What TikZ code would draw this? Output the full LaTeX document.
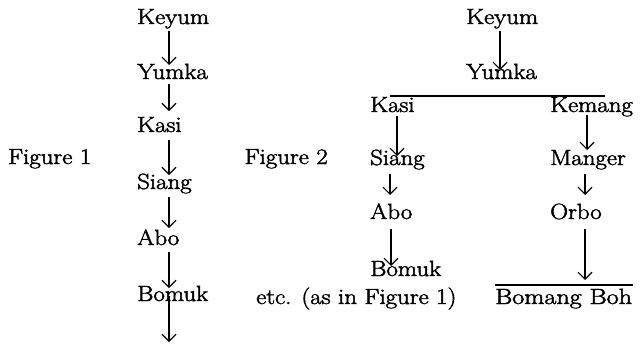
\documentclass[tikz,border=0pt]{standalone}
\usepackage{fontspec}
\setmainfont{Latin Modern Roman}[FakeBold=2]
\usetikzlibrary{arrows.meta,calc}
\tikzset{
  txt/.style={inner sep=0pt, anchor=base west, xscale=1.13, transform shape, font=\fontsize{22}{26}\selectfont},
  arr/.style={line width=1.1pt, -{Straight Barb[length=7pt,width=14pt,line width=1.1pt]}},
  rule/.style={line width=1.1pt}
}
\begin{document}
\begin{tikzpicture}[x=1pt,y=-1pt]
\useasboundingbox (0,0) rectangle (642,343);
% Figure 1
\node[txt] (f1) at (8,164) {Figure 1};
\node[txt] (k1) at (137,24) {Keyum};
\node[txt] (y1) at (137,79) {Yumka};
\node[txt] (ka1) at (137,132) {Kasi};
\node[txt] (s1) at (137,189) {Siang};
\node[txt] (a1) at (137,245) {Abo};
\node[txt] (b1) at (137,301) {Bomuk};
\coordinate (end1) at (169,342);
\draw[arr] ($(k1.base west)+(32,7)$) -- ($(y1.base west)+(32,-14)$);
\draw[arr] ($(y1.base west)+(32,5)$) -- ($(ka1.base west)+(32,-21)$);
\draw[arr] ($(ka1.base west)+(32,8)$) -- ($(s1.base west)+(32,-14)$);
\draw[arr] ($(s1.base west)+(32,8)$) -- ($(a1.base west)+(32,-17)$);
\draw[arr] ($(a1.base west)+(32,7)$) -- ($(b1.base west)+(32,-13)$);
\draw[arr] ($(b1.base west)+(32,-5)$) -- (end1);
% Figure 2
\node[txt, anchor=base east] (f2) at (328,164) {Figure 2};
\node[txt] (k2) at (466,24) {Keyum};
\node[txt] (y2) at (466,79) {Yumka};
\coordinate (barL) at (390,96);
\coordinate (barR) at (605,96);
\draw[rule] (barL) -- (barR);
\node[txt] (ka2) at (370,112) {Kasi};
\node[txt] (ke2) at (550,112) {Kemang};
\node[txt] (s2) at (370,165) {Siang};
\node[txt] (m2) at (550,165) {Manger};
\node[txt] (a2) at (370,219) {Abo};
\node[txt] (o2) at (550,219) {Orbo};
\node[txt] (b2) at (370,276) {Bomuk};
\node[txt] (etc) at (256,304) {etc. (as in Figure 1)};
\node[txt, xscale=1.05] (bb) at (495,304) {Bomang Boh};
\coordinate (bbL) at (495,285);
\coordinate (bbR) at (633,285);
\draw[rule] (bbL) -- (bbR);
\draw[arr] ($(k2.base west)+(34,7)$) -- ($(y2.base west)+(34,-9)$);
\draw[arr] ($(ka2.base west)+(27,4)$) -- ($(s2.base west)+(27,-9)$);
\draw[arr] ($(ke2.base west)+(37,3)$) -- ($(m2.base west)+(37,-15)$);
\draw[arr] ($(s2.base west)+(20,9)$) -- ($(a2.base west)+(20,-24)$);
\draw[arr] ($(m2.base west)+(35,9)$) -- ($(o2.base west)+(35,-24)$);
\draw[arr] ($(a2.base west)+(21,10)$) -- ($(b2.base west)+(21,-10)$);
\draw[arr] ($(o2.base west)+(35,10)$) -- ($(bbL)+(90,-5)$);
\end{tikzpicture}
\end{document}
